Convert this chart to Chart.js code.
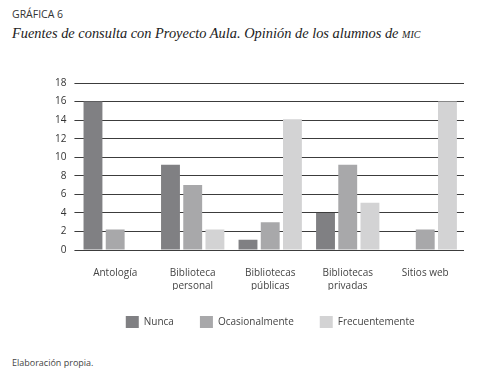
<!DOCTYPE html>
<html>
<head>
<meta charset="utf-8">
<script src="https://cdn.jsdelivr.net/npm/chart.js@4/dist/chart.umd.min.js"></script>
<style>
  html, body { margin: 0; padding: 0; background: #fff; }
  body { width: 483px; height: 374px; position: relative; overflow: hidden; }
  #num { position: absolute; left: 12px; top: 7px; font: 10.5px "Open Sans", sans-serif; color: #333; }
  #tit { position: absolute; left: 12px; top: 25px; font: italic 14.4px "Liberation Serif", serif; color: #222; white-space: nowrap; }
  #tit span { font-variant: small-caps; }
  #wrap { position: absolute; left: 0; top: 0; width: 483px; height: 340px; }
  #fuente { position: absolute; left: 12px; top: 356px; font: 9px "Open Sans", sans-serif; color: #444; }
</style>
</head>
<body>
<div id="num">GRÁFICA 6</div>
<div id="tit">Fuentes de consulta con Proyecto Aula. Opinión de los alumnos de <span>mic</span></div>
<div id="wrap"><canvas id="grafica"></canvas></div>
<div id="fuente">Elaboración propia.</div>
<script>
// datos
var fuentes = [["Antología"], ["Biblioteca", "personal"], ["Bibliotecas", "públicas"], ["Bibliotecas", "privadas"], ["Sitios web"]];
var nunca = [16, 9.2, 1.1, 4, 0];
var ocasionalmente = [2.2, 7, 3, 9.2, 2.2];
var frecuentemente = [0, 2.2, 14.1, 5.1, 16];

var fuente = { family: "'Open Sans', sans-serif", size: 10 };

var data = {
  labels: fuentes,
  datasets: [
    { label: "Nunca", data: nunca, backgroundColor: "#808083" },
    { label: "Ocasionalmente", data: ocasionalmente, backgroundColor: "#a8a8aa" },
    { label: "Frecuentemente", data: frecuentemente, backgroundColor: "#d3d3d4" }
  ]
};

var options = {
  responsive: true,
  maintainAspectRatio: false,
  animation: false,
  categoryPercentage: 0.86,
  barPercentage: 0.85,
  layout: { padding: { left: 47, right: 19, top: 83, bottom: 2 } },
  plugins: {
    tooltip: { enabled: false },
    legend: {
      position: 'bottom',
      fullSize: false,
      labels: { boxWidth: 13, boxHeight: 12, padding: 26, color: '#444', font: fuente }
    }
  },
  scales: {
    x: {
      afterFit: function(scale) { scale.height = 40; },
      grid: { display: false },
      border: { display: false },
      ticks: { color: '#444', font: { family: fuente.family, size: 10, lineHeight: 1.3 }, padding: 9, maxRotation: 0 }
    },
    y: {
      min: 0,
      max: 18,
      grid: { color: '#3c3c3c', lineWidth: 1, drawTicks: true, tickLength: 2 },
      border: { display: false },
      ticks: { color: '#333', font: fuente, padding: 8, stepSize: 2, autoSkip: false }
    }
  }
};

var ctx = document.getElementById('grafica').getContext('2d');
var grafica = new Chart(ctx, { type: 'bar', data: data, options: options });
</script>
</body>
</html>
